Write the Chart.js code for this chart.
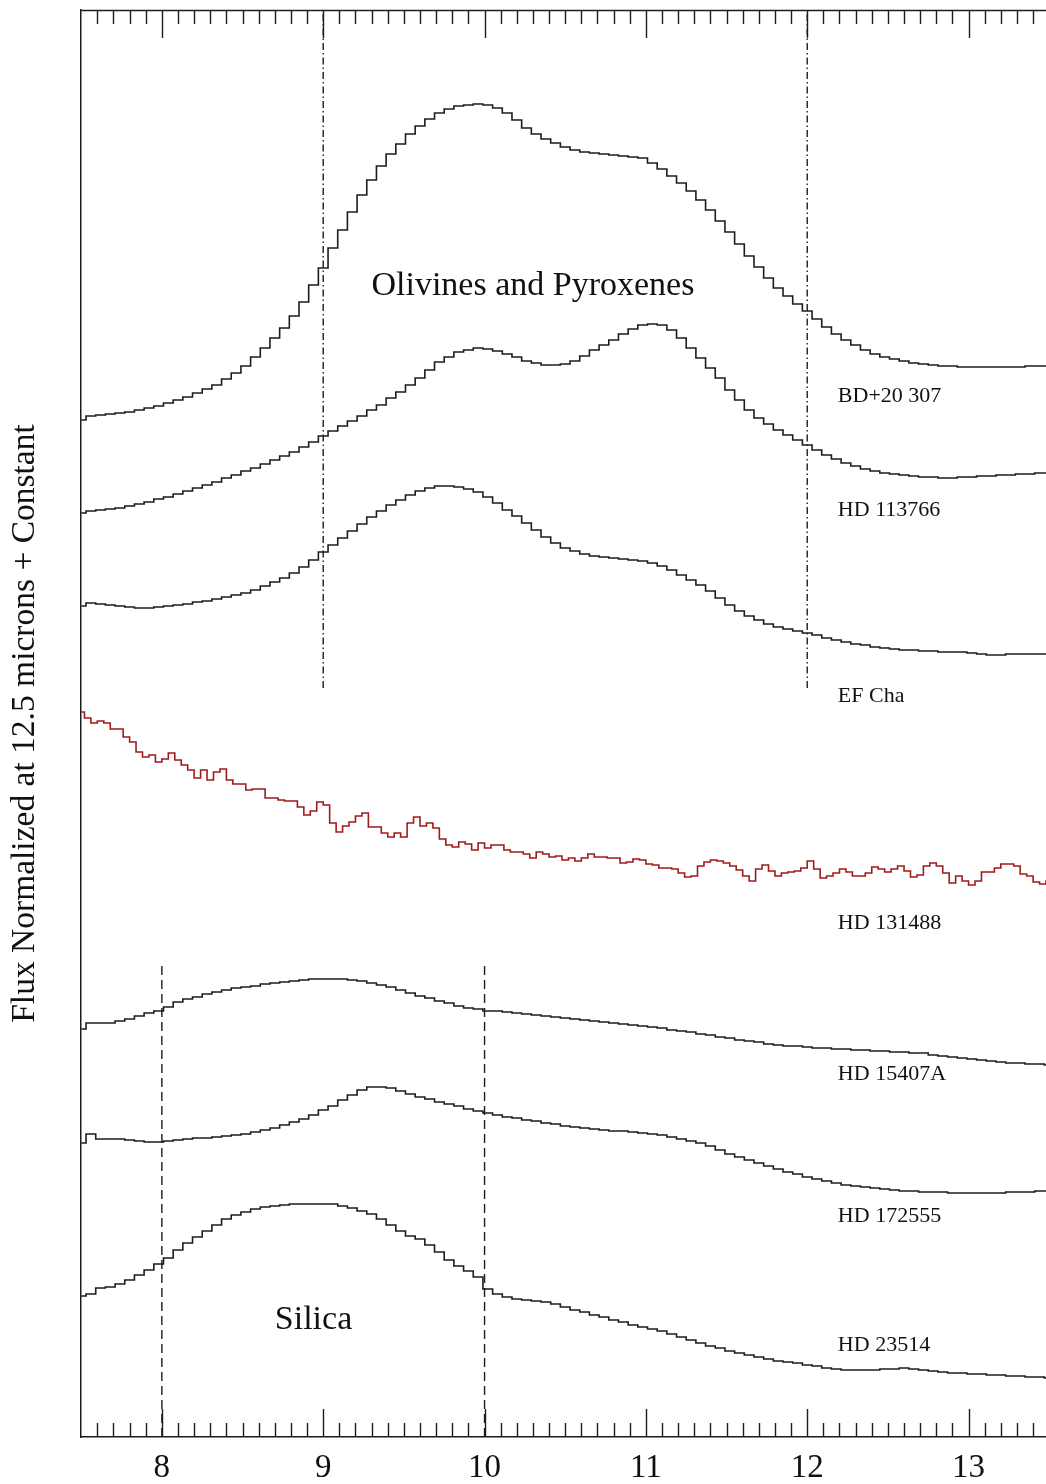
<!DOCTYPE html>
<html>
<head>
<meta charset="utf-8">
<title>Mid-IR spectra</title>
<script src="https://cdn.jsdelivr.net/npm/chart.js@4.4.1/dist/chart.umd.min.js"></script>
<style>
  html, body { margin: 0; padding: 0; background: #fff; }
  canvas { display: block; }
</style>
</head>
<body>
<canvas id="spectra" width="1046" height="1484"></canvas>
<script>
// wavelength sampling (microns)
const WAVE_START = 7.5;
const STEP_LORES = 0.06;   // black spectra
const STEP_RED = 0.04;     // HD 131488

// flux normalized at 12.5 microns + constant (arbitrary offset units)
const bd20307 = [
  1017,1021,1022,1023,1024,1025,1027,1029,1031,1034,
  1037,1040,1044,1048,1052,1058,1064,1071,1080,1089,
  1099,1109,1121,1135,1152,1169,1189,1207,1225,1242,
  1257,1271,1283,1293,1303,1311,1318,1324,1328,1331,
  1332,1333,1332,1329,1324,1317,1309,1303,1298,1294,
  1290,1287,1285,1284,1283,1282,1281,1280,1279,1274,
  1268,1261,1254,1246,1237,1227,1216,1205,1193,1181,
  1170,1159,1149,1141,1133,1126,1118,1110,1103,1097,
  1092,1087,1083,1080,1078,1076,1074,1073,1072,1071,
  1071,1070,1070,1070,1070,1070,1070,1070,1071,1071,
  1071
];
const hd113766 = [
  924,926,927,928,929,931,933,935,938,940,
  943,946,949,952,955,959,962,966,969,973,
  977,981,985,990,995,1001,1006,1011,1016,1021,
  1027,1032,1039,1045,1052,1059,1067,1075,1080,1085,
  1087,1089,1088,1086,1083,1080,1076,1074,1072,1072,
  1073,1076,1081,1087,1092,1097,1103,1108,1112,1113,
  1112,1107,1099,1089,1079,1069,1059,1047,1037,1027,
  1019,1013,1007,1002,997,992,987,982,978,974,
  971,968,966,964,963,962,961,960,960,959,
  959,960,960,961,961,962,962,963,963,964,
  964
];
const efCha = [
  831,834,833,832,831,830,829,829,830,831,
  832,833,835,836,838,840,842,844,847,851,
  855,859,864,870,877,885,892,899,906,913,
  920,926,932,937,942,946,949,951,951,950,
  948,945,940,934,927,921,914,907,900,894,
  889,886,883,881,880,879,878,877,876,874,
  871,867,862,857,852,846,839,832,826,821,
  817,813,810,808,806,804,802,799,797,795,
  793,792,790,789,788,787,787,786,786,785,
  785,785,784,783,782,782,783,783,783,783,
  783
];
const hd131488 = [
  725,719,714,716,714,708,708,700,695,685,
  680,682,675,678,684,677,672,667,659,667,
  657,665,668,657,653,653,647,648,648,639,
  639,637,636,636,630,622,626,635,632,614,
  605,611,615,621,624,610,610,604,600,604,
  600,614,620,611,614,609,598,592,590,595,
  593,587,594,589,592,592,587,585,585,583,
  579,585,583,580,581,577,579,576,579,583,
  580,580,579,579,574,575,578,577,573,572,
  569,569,568,564,560,561,571,575,577,576,
  574,571,567,561,556,568,572,566,561,564,
  565,566,569,576,568,559,561,564,568,565,
  561,561,564,570,568,565,568,571,566,560,
  562,571,574,571,564,554,561,556,552,556,
  565,565,569,573,573,571,563,561,555,553,
  556
];
const hd15407a = [
  408,414,414,414,416,418,421,424,426,430,
  435,438,440,443,445,447,449,450,451,453,
  454,455,456,457,458,458,458,458,457,456,
  454,452,450,447,444,441,439,436,434,431,
  429,428,426,426,425,424,423,422,421,420,
  419,418,417,416,415,414,413,412,411,410,
  409,407,406,405,403,402,400,399,397,396,
  395,393,392,391,391,390,389,389,388,388,
  387,387,386,386,385,385,384,384,382,381,
  380,379,378,377,376,375,374,374,373,373,
  372
];
const hd172555 = [
  294,303,298,298,298,297,296,295,295,296,
  297,298,299,299,300,301,302,303,305,307,
  309,312,315,318,322,327,331,337,342,347,
  350,350,349,346,343,340,338,335,333,331,
  328,326,324,322,320,319,317,316,314,313,
  311,310,309,308,307,306,306,305,304,303,
  302,300,298,296,294,291,287,283,280,277,
  274,271,268,265,263,260,258,256,254,252,
  251,250,249,248,247,246,246,245,245,245,
  244,244,244,244,244,244,245,245,245,246,
  246
];
const hd23514 = [
  141,143,149,150,153,157,162,167,173,179,
  187,194,200,206,212,218,222,225,228,230,
  231,232,233,233,233,233,233,231,229,226,
  223,218,212,206,201,198,192,185,177,171,
  166,160,148,143,140,138,137,136,135,133,
  130,127,125,122,120,117,115,112,110,108,
  106,103,100,97,94,91,89,86,84,82,
  80,78,76,75,74,72,71,69,68,67,
  67,67,67,68,68,69,68,67,66,65,
  64,64,63,63,62,62,61,61,60,60,
  59
];

const starNames = ["BD+20 307", "HD 113766", "EF Cha", "HD 131488", "HD 15407A", "HD 172555", "HD 23514"];
const xTickValues = [8, 9, 10, 11, 12, 13];

// feature markers: [wavelength, yFrom, yTo]
const olivineMarks = [[9, 749, 1427], [12, 749, 1427]];
const silicaMarks = [[8, 0, 474], [10, 0, 474]];

// label placement [x (micron), y (flux units)]
const nameSpots = [[12.19, 1041], [12.19, 927], [12.19, 741], [12.19, 514], [12.19, 363], [12.19, 221], [12.19, 92]];
const featureLabels = [["Olivines and Pyroxenes", 10.3, 1151], ["Silica", 8.94, 117]];

const SERIF = "'Liberation Serif', 'Times New Roman', serif";
const INK = "#1c1c1c";

function toXY(values, step) {
  return values.map((v, i) => ({ x: Math.round((WAVE_START + step * i) * 1000) / 1000, y: v }));
}

function spectrum(label, values, step, color) {
  return {
    label: label,
    data: toXY(values, step),
    borderColor: color,
    borderWidth: 1.6,
    pointRadius: 0,
    stepped: "middle",
    fill: false
  };
}

function marker(m, dash) {
  return {
    label: "marker",
    data: [{ x: m[0], y: m[1] }, { x: m[0], y: m[2] }],
    borderColor: INK,
    borderWidth: 1.4,
    borderDash: dash,
    pointRadius: 0,
    fill: false
  };
}

const datasets = [
  spectrum(starNames[0], bd20307, STEP_LORES, INK),
  spectrum(starNames[1], hd113766, STEP_LORES, INK),
  spectrum(starNames[2], efCha, STEP_LORES, INK),
  spectrum(starNames[3], hd131488, STEP_RED, "#a11a1a"),
  spectrum(starNames[4], hd15407a, STEP_LORES, INK),
  spectrum(starNames[5], hd172555, STEP_LORES, INK),
  spectrum(starNames[6], hd23514, STEP_LORES, INK)
];
olivineMarks.forEach(m => datasets.push(marker(m, [7, 3, 1.5, 3])));
silicaMarks.forEach(m => datasets.push(marker(m, [9, 5])));

// inward ticks on top and bottom, top frame line, text labels
const frameAndText = {
  id: "frameAndText",
  afterDatasetsDraw(chart) {
    const { ctx, chartArea: a } = chart;
    const x = chart.scales.x, y = chart.scales.y;
    ctx.save();
    ctx.strokeStyle = INK;
    ctx.lineWidth = 1.4;
    ctx.beginPath();
    ctx.moveTo(a.left, a.top + 0.5);
    ctx.lineTo(a.right, a.top + 0.5);
    for (let k = 76; k <= 134; k++) {
      const px = Math.round(x.getPixelForValue(k / 10)) + 0.5;
      const len = k % 10 === 0 ? 28 : 14;
      ctx.moveTo(px, a.bottom);
      ctx.lineTo(px, a.bottom - len);
      ctx.moveTo(px, a.top);
      ctx.lineTo(px, a.top + len);
    }
    ctx.stroke();

    ctx.fillStyle = "#111";
    ctx.textBaseline = "middle";
    ctx.textAlign = "left";
    ctx.font = "22px " + SERIF;
    starNames.forEach((name, i) => {
      ctx.fillText(name, x.getPixelForValue(nameSpots[i][0]), y.getPixelForValue(nameSpots[i][1]));
    });
    ctx.textAlign = "center";
    ctx.font = "34px " + SERIF;
    featureLabels.forEach(f => {
      ctx.fillText(f[0], x.getPixelForValue(f[1]), y.getPixelForValue(f[2]));
    });
    ctx.restore();
  }
};

new Chart(document.getElementById("spectra"), {
  type: "line",
  data: { datasets: datasets },
  options: {
    responsive: false,
    animation: false,
    devicePixelRatio: 1,
    layout: { padding: { top: 10, right: 0, left: 0, bottom: 0 } },
    plugins: {
      legend: { display: false },
      tooltip: { enabled: false }
    },
    scales: {
      x: {
        type: "linear",
        min: 7.5,
        max: 13.48,
        afterBuildTicks: scale => { scale.ticks = xTickValues.map(v => ({ value: v })); },
        afterFit: scale => { scale.height = 47; },
        grid: { display: false, drawTicks: false },
        border: { display: true, color: INK, width: 1.5 },
        ticks: {
          color: "#111",
          padding: 15,
          maxRotation: 0,
          font: { family: SERIF, size: 33, lineHeight: 1.0 }
        }
      },
      y: {
        type: "linear",
        min: 0,
        max: 1427,
        grid: { display: false, drawTicks: false },
        border: { display: true, color: INK, width: 1.5 },
        ticks: { display: false },
        title: {
          display: true,
          text: "Flux Normalized at 12.5 microns + Constant",
          color: "#111",
          font: { family: SERIF, size: 33.5, lineHeight: 1.2 },
          padding: { top: 5, bottom: 36 }
        }
      }
    }
  },
  plugins: [frameAndText]
});
</script>
</body>
</html>
